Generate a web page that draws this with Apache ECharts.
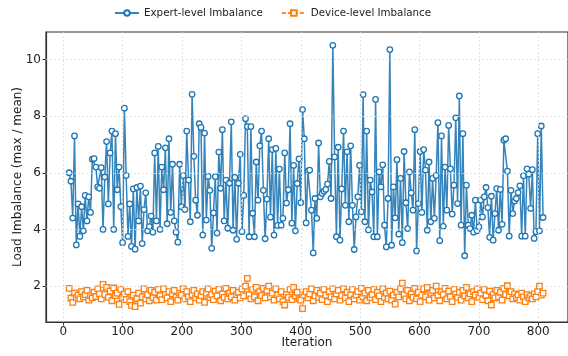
<!DOCTYPE html>
<html>
<head>
<meta charset="utf-8">
<script src="https://cdn.jsdelivr.net/npm/echarts@6/dist/echarts.min.js"></script>
<style>
  html, body { margin: 0; padding: 0; background: #fff; }
  #chart { width: 568px; height: 356px; }
</style>
</head>
<body>
<div id="chart"></div>
<script>
// 迭代步（横轴）
var iterations = [
  10,13,16,19,22,25,28,31,34,37,
  40,43,46,49,52,55,58,61,64,67,
  70,73,76,79,82,85,88,91,94,97,
  100,103,106,109,112,115,118,121,124,127,
  130,133,136,139,142,145,148,151,154,157,
  160,163,166,169,172,175,178,181,184,187,
  190,193,196,199,202,205,208,211,214,217,
  220,223,226,229,232,235,238,241,244,247,
  250,253,256,259,262,265,268,271,274,277,
  280,283,286,289,292,295,298,301,304,307,
  310,313,316,319,322,325,328,331,334,337,
  340,343,346,349,352,355,358,361,364,367,
  370,373,376,379,382,385,388,391,394,397,
  400,403,406,409,412,415,418,421,424,427,
  430,433,436,439,442,445,448,451,454,457,
  460,463,466,469,472,475,478,481,484,487,
  490,493,496,499,502,505,508,511,514,517,
  520,523,526,529,532,535,538,541,544,547,
  550,553,556,559,562,565,568,571,574,577,
  580,583,586,589,592,595,598,601,604,607,
  610,613,616,619,622,625,628,631,634,637,
  640,643,646,649,652,655,658,661,664,667,
  670,673,676,679,682,685,688,691,694,697,
  700,703,706,709,712,715,718,721,724,727,
  730,733,736,739,742,745,748,751,754,757,
  760,763,766,769,772,775,778,781,784,787,
  790,793,796,799,802,805,808
];

// 专家级不均衡
var expertImbalance = [
  6.0, 5.7, 4.4, 7.3, 3.45, 4.9, 3.75, 4.8, 3.95, 5.2,
  4.3, 5.15, 4.6, 6.48, 6.5, 6.2, 5.5, 5.45, 6.18, 4.0,
  5.85, 7.1, 4.9, 6.7, 7.47, 4.0, 7.38, 5.4, 6.2, 4.8,
  3.53, 8.28, 5.9, 3.75, 4.9, 3.4, 5.43, 3.3, 5.48, 4.3,
  5.53, 3.5, 4.7, 5.29, 3.95, 4.1, 4.47, 3.9, 6.7, 4.3,
  6.93, 4.0, 6.2, 5.4, 6.88, 4.2, 7.2, 4.6, 6.3, 4.3,
  3.9, 3.55, 6.3, 4.8, 5.9, 4.7, 7.47, 5.74, 4.27, 8.77,
  6.58, 5.03, 4.5, 7.73, 7.6, 3.8, 7.4, 4.33, 5.87, 5.38,
  3.33, 4.58, 5.86, 3.87, 6.73, 5.45, 7.52, 4.3, 5.74, 4.04,
  5.63, 7.8, 3.97, 5.84, 3.65, 5.63, 6.65, 3.92, 5.2, 7.91,
  7.63, 3.74, 7.63, 4.57, 3.74, 6.38, 5.03, 6.95, 7.47, 5.38,
  3.67, 5.07, 7.2, 4.43, 6.82, 3.8, 6.86, 4.14, 6.13, 4.15,
  4.39, 6.7, 4.93, 5.4, 7.73, 4.22, 6.26, 3.95, 5.62, 6.49,
  4.94, 8.23, 7.2, 4.23, 6.06, 6.09, 4.68, 3.17, 5.09, 4.39,
  7.05, 5.15, 5.27, 5.35, 5.41, 5.6, 6.4, 5.09, 10.5, 6.56,
  3.74, 6.9, 3.62, 5.43, 7.47, 4.85, 6.74, 4.27, 6.95, 4.85,
  3.29, 4.44, 5.15, 6.26, 4.62, 8.76, 4.27, 7.47, 3.98, 5.74,
  5.32, 3.74, 8.59, 3.74, 6.03, 5.5, 6.28, 4.15, 3.38, 5.09,
  10.35, 3.44, 5.5, 4.41, 6.46, 3.83, 5.8, 3.53, 6.75, 4.94,
  4.03, 6.03, 5.29, 4.68, 7.52, 3.24, 4.91, 6.75, 4.6, 6.82,
  6.09, 3.97, 6.38, 4.27, 5.8, 4.39, 5.9, 7.77, 3.6, 7.3,
  4.11, 6.2, 4.68, 7.67, 6.14, 4.54, 5.56, 7.94, 4.91, 8.71,
  4.15, 7.38, 3.07, 5.56, 4.15, 4.03, 4.5, 3.9, 5.03, 3.95,
  4.09, 5.03, 4.44, 5.15, 5.48, 4.77, 3.72, 5.17, 3.62, 4.56,
  5.44, 3.97, 5.41, 4.18, 7.15, 7.2, 6.06, 3.76, 5.38, 4.56,
  5.0, 5.09, 5.3, 5.54, 3.76, 5.89, 3.76, 6.14, 5.95, 4.74,
  6.11, 3.68, 3.92, 7.38, 3.95, 7.65, 4.42
];

// 设备级不均衡
var deviceImbalance = [
  1.92, 1.57, 1.42, 1.75, 1.6, 1.68, 1.55, 1.8, 1.62, 1.7,
  1.85, 1.5, 1.66, 1.58, 1.78, 1.63, 1.9, 1.72, 1.55, 2.06,
  1.7, 1.95, 1.6, 1.82, 1.48, 1.93, 1.66, 1.75, 1.35, 1.88,
  1.6, 1.72, 1.52, 1.8, 1.45, 1.32, 1.68, 1.27, 1.56, 1.75,
  1.4, 1.62, 1.9, 1.55, 1.7, 1.48, 1.85, 1.6, 1.78, 1.5,
  1.88, 1.65, 1.52, 1.9, 1.7, 1.58, 1.8, 1.45, 1.72, 1.85,
  1.6, 1.5, 1.75, 1.68, 1.9, 1.55, 1.8, 1.62, 1.45, 1.7,
  1.85, 1.58, 1.72, 1.5, 1.66, 1.8, 1.42, 1.75, 1.9, 1.6,
  1.7, 1.52, 1.82, 1.65, 1.88, 1.48, 1.72, 1.6, 1.92, 1.55,
  1.75, 1.62, 1.85, 1.5, 1.7, 1.78, 1.58, 1.9, 1.65, 2.0,
  2.27, 1.7, 1.55, 1.88, 1.62, 1.95, 1.48, 1.8, 1.66, 1.92,
  1.58, 1.85, 2.0, 1.62, 1.75, 1.5, 1.9, 1.68, 1.55, 1.8,
  1.45, 1.33, 1.7, 1.6, 1.88, 1.52, 1.95, 1.65, 1.78, 1.55,
  1.5, 1.2, 1.68, 1.8, 1.58, 1.72, 1.9, 1.48, 1.65, 1.85,
  1.6, 1.75, 1.52, 1.88, 1.68, 1.45, 1.8, 1.62, 1.9, 1.55,
  1.72, 1.85, 1.5, 1.66, 1.9, 1.58, 1.78, 1.45, 1.7, 1.88,
  1.55, 1.68, 1.8, 1.5, 1.92, 1.62, 1.75, 1.48, 1.85, 1.6,
  1.7, 1.88, 1.52, 1.78, 1.65, 1.45, 1.9, 1.6, 1.75, 1.55,
  1.82, 1.5, 1.68, 1.36, 1.78, 1.62, 1.9, 2.1, 1.7, 1.55,
  1.85, 1.48, 1.72, 1.6, 1.92, 1.55, 1.78, 1.45, 1.68, 1.9,
  1.62, 1.95, 1.5, 1.75, 1.85, 1.58, 2.0, 1.66, 1.48, 1.8,
  1.7, 1.92, 1.55, 1.82, 1.62, 1.45, 1.88, 1.72, 1.6, 1.78,
  1.5, 1.85, 1.65, 1.95, 1.58, 1.72, 1.45, 1.8, 1.68, 1.9,
  1.6, 1.75, 1.52, 1.88, 1.66, 1.48, 1.82, 1.33, 1.7, 1.58,
  1.85, 1.62, 1.78, 1.5, 1.92, 1.7, 2.01, 1.65, 1.8, 1.55,
  1.72, 1.6, 1.68, 1.5, 1.75, 1.62, 1.45, 1.7, 1.58, 1.65,
  1.55, 1.72, 1.62, 1.8, 2.0, 1.68, 1.75
];

// 刻度
var xTicks = [0, 100, 200, 300, 400, 500, 600, 700, 800];
var yTicks = [2, 4, 6, 8, 10];

var font = 'DejaVu Sans';
var axisColor = '#333';
var gridStyle = { color: '#dcdcdc', width: 0.8, type: [2, 2], opacity: 1 };

function pairs(ys) {
  return iterations.map(function (it, i) { return [it, ys[i]]; });
}

// 网格线（按刻度值画在坐标系里）
var gridLines = xTicks.map(function (v) { return { xAxis: v, lineStyle: gridStyle }; })
  .concat(yTicks.map(function (v) { return { yAxis: v, lineStyle: gridStyle }; }));

var myChart = echarts.init(document.getElementById('chart'));
myChart.setOption({
  animation: false,
  textStyle: { fontFamily: font },
  legend: {
    top: 3,
    left: 109,
    itemWidth: 24,
    itemHeight: 7,
    itemGap: 18,
    textStyle: { fontFamily: font, fontSize: 10.3, color: '#222' },
    data: ['Expert-level Imbalance', 'Device-level Imbalance']
  },
  grid: {
    left: 46, right: -2, top: 32, bottom: 34,
    show: true, borderColor: axisColor, borderWidth: 1.2,
    backgroundColor: 'transparent'
  },
  xAxis: {
    type: 'value',
    min: -29, max: 850,
    name: 'Iteration',
    nameLocation: 'middle',
    nameGap: 15,
    nameMoveOverlap: false,
    nameTextStyle: { fontFamily: font, fontSize: 12, color: '#222' },
    axisLine: { show: true, onZero: false, lineStyle: { color: axisColor, width: 1.2 } },
    axisTick: { show: true, inside: false, length: 3.5, customValues: xTicks, lineStyle: { color: axisColor } },
    axisLabel: { margin: 4, fontFamily: font, fontSize: 12, color: '#222', customValues: xTicks },
    splitLine: { show: false },
    minorSplitLine: { show: false },
    minorTick: { show: false }
  },
  yAxis: {
    type: 'value',
    min: 0.73, max: 10.97,
    name: 'Load Imbalance (max / mean)',
    nameLocation: 'middle',
    nameGap: 22,
    nameMoveOverlap: false,
    nameTextStyle: { fontFamily: font, fontSize: 12, color: '#222' },
    axisLine: { show: true, onZero: false, lineStyle: { color: axisColor, width: 1.2 } },
    axisTick: { show: true, inside: false, length: 3.5, customValues: yTicks, lineStyle: { color: axisColor } },
    axisLabel: { margin: 5, fontFamily: font, fontSize: 12, color: '#222', customValues: yTicks },
    splitLine: { show: false },
    minorSplitLine: { show: false },
    minorTick: { show: false }
  },
  series: [
    {
      name: 'grid',
      type: 'line',
      data: [],
      z: 1,
      silent: true,
      itemStyle: { color: '#dcdcdc' },
      lineStyle: { color: '#dcdcdc' },
      markLine: {
        silent: true,
        symbol: 'none',
        label: { show: false },
        lineStyle: gridStyle,
        emphasis: { disabled: true },
        data: gridLines
      }
    },
    {
      name: 'Expert-level Imbalance',
      type: 'line',
      data: pairs(expertImbalance),
      z: 3,
      symbol: 'circle',
      symbolSize: 5.5,
      lineStyle: { color: '#1f77b4', width: 1.5, opacity: 0.9 },
      itemStyle: { color: '#fff', borderColor: '#1f77b4', borderWidth: 1.3 }
    },
    {
      name: 'Device-level Imbalance',
      type: 'line',
      data: pairs(deviceImbalance),
      z: 3,
      symbol: 'rect',
      symbolSize: 5.5,
      lineStyle: { color: '#ff7f0e', width: 1.2, type: [4, 2], opacity: 0.9 },
      itemStyle: { color: '#fff', borderColor: '#ff7f0e', borderWidth: 1.3 }
    }
  ]
});
</script>
</body>
</html>
